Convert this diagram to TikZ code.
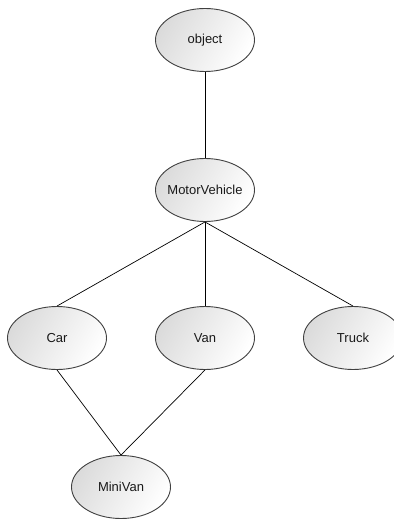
\documentclass[tikz,border=0pt]{standalone}
\usepackage{fontspec}
\setmainfont{Liberation Sans}
\usetikzlibrary{shapes.geometric}
\newcommand{\lbl}[1]{\makebox[0pt]{#1}}
\begin{document}
\begin{tikzpicture}[x=1pt,y=-1pt,
  cls/.style={ellipse, draw=black!75, line width=0.9pt, left color=black!14, right color=white,
    shading angle=60, minimum width=99pt, minimum height=63pt, inner sep=0pt,
    font=\fontsize{13}{15}\selectfont, text=black!90},
  link/.style={draw=black, line width=0.7pt}]
\useasboundingbox (0,0) rectangle (393,521);
\node[cls] (object) at (205,40) {\lbl{object}};
\node[cls] (mv) at (205,190) {\lbl{MotorVehicle}};
\node[cls] (car) at (57,338) {\lbl{Car}};
\node[cls] (van) at (205,338) {\lbl{Van}};
\node[cls] (truck) at (353,338) {\lbl{Truck}};
\node[cls] (minivan) at (121,487) {\lbl{MiniVan}};
\draw[link] (object.south) -- (mv.north);
\draw[link] (mv.south) -- (car.north);
\draw[link] (mv.south) -- (van.north);
\draw[link] (mv.south) -- (truck.north);
\draw[link] (car.south) -- (minivan.north);
\draw[link] (van.south) -- (minivan.north);
\end{tikzpicture}
\end{document}
